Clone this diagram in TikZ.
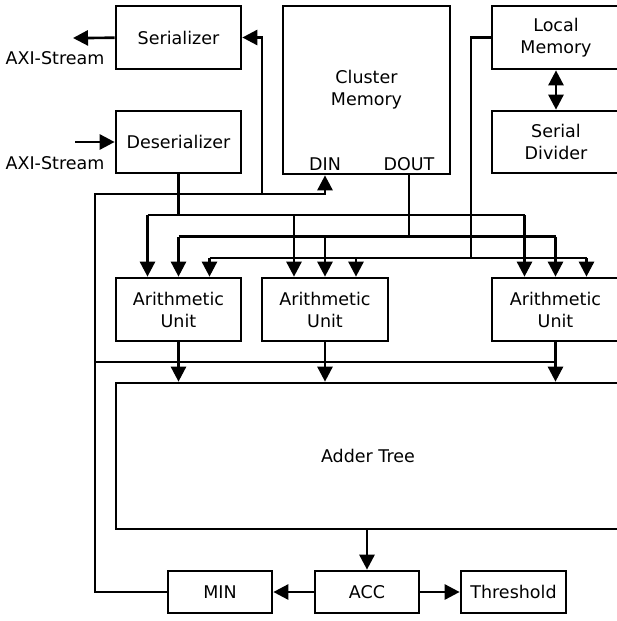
\documentclass[tikz,border=0pt]{standalone}
\usepackage{fontspec}
\setmainfont{DejaVu Sans}
\usepackage{tikz}
\usetikzlibrary{arrows.meta,calc}
\definecolor{hwink}{HTML}{000000}

\begin{document}
\begin{tikzpicture}[x=1pt,y=-1pt,
    blk/.style={draw=hwink,line width=2.7pt,inner sep=0pt,align=center,font=\fontsize{17.5}{22}\selectfont},
    lbl/.style={inner sep=0pt,font=\fontsize{17.5}{22}\selectfont},
    wire/.style={draw=hwink,line width=2.7pt},
    arr/.style={wire,-{Triangle[length=15pt,width=15pt]}},
    darr/.style={wire,{Triangle[length=15pt,width=15pt]}-{Triangle[length=15pt,width=15pt]}}]
  \useasboundingbox (0,0) rectangle (616,621);
  \fill[white] (0,0) rectangle (616,621);
  % blocks
  \node[blk,minimum width=125pt,minimum height=63pt] (ser) at (178.5,37.5) {Serializer};
  \node[blk,minimum width=125pt,minimum height=62pt] (des) at (178.5,142) {Deserializer};
  \node[blk,minimum width=167pt,minimum height=168pt] (cm) at (366.5,90) {Cluster\\Memory};
  \node[blk,minimum width=128pt,minimum height=63pt] (lm) at (556,37.5) {Local\\Memory};
  \node[blk,minimum width=128pt,minimum height=62pt] (sd) at (556,142) {Serial\\Divider};
  \node[blk,minimum width=125pt,minimum height=63pt] (au1) at (178.5,309.5) {Arithmetic\\Unit};
  \node[blk,minimum width=126pt,minimum height=63pt] (au2) at (325,309.5) {Arithmetic\\Unit};
  \node[blk,minimum width=127pt,minimum height=63pt] (au3) at (555.5,309.5) {Arithmetic\\Unit};
  \node[blk,minimum width=504pt,minimum height=146pt] (adder) at (368,456) {Adder Tree};
  \node[blk,minimum width=104pt,minimum height=42pt] (minbox) at (220,592) {MIN};
  \node[blk,minimum width=104pt,minimum height=42pt] (acc) at (367,592) {ACC};
  \node[blk,minimum width=105pt,minimum height=42pt] (thr) at (513.5,592) {Threshold};
  % port labels
  \node[lbl] (din) at (325,164) {DIN};
  \node[lbl] (dout) at (409,164) {DOUT};
  \node[lbl] (axiouttxt) at (55,58.5) {AXI-Stream};
  \node[lbl] (axiintxt) at (55,163.5) {AXI-Stream};
  % stream ends and bus rails
  \coordinate (axiout) at (73,38);
  \coordinate (axiin) at (75,142);
  \coordinate (fbk) at (95,194);
  \coordinate (serfb) at (262,194);
  \coordinate (busa) at (0,215);
  \coordinate (busb) at (0,236.5);
  \coordinate (busc) at (0,258);
  \coordinate (lmtap) at (471,258);
  \coordinate (sumbus) at (555.5,362);
  \foreach \u in {au1,au2,au3} {
    \coordinate (\u A) at ($(\u.north)+(-31,0)$);
    \coordinate (\u B) at (\u.north);
    \coordinate (\u C) at ($(\u.north)+(31,0)$);
  }

  \draw[arr] (ser) -- (axiout);
  \draw[arr] (axiin) -- (des);
  \draw[darr] (lm.south) -- (sd.north);

  % feedback from MIN
  \draw[arr] (minbox.west) -| (fbk) -| (din |- cm.south);
  \draw[arr] (serfb) |- (ser.east);
  \draw[wire] (sumbus -| fbk) -- (sumbus);

  % operand buses
  \draw[wire] (des.south) -- (des.south |- busa);
  \draw[wire] (au1A |- busa) -- (au3A |- busa);
  \draw[wire] (dout |- cm.south) -- (dout |- busb);
  \draw[wire] (au1B |- busb) -- (au3B |- busb);
  \draw[wire] (lm.west) -| (lmtap);
  \draw[wire] (au1C |- busc) -- (au3C |- busc);
  \foreach \u in {au1,au2,au3} {
    \draw[arr] (\u A |- busa) -- (\u A);
    \draw[arr] (\u B |- busb) -- (\u B);
    \draw[arr] (\u C |- busc) -- (\u C);
    \draw[arr] (\u.south) -- (\u.south |- adder.north);
  }

  \draw[arr] (adder.south -| acc) -- (acc.north);
  \draw[arr] (acc) -- (minbox);
  \draw[arr] (acc) -- (thr);
\end{tikzpicture}
\end{document}
